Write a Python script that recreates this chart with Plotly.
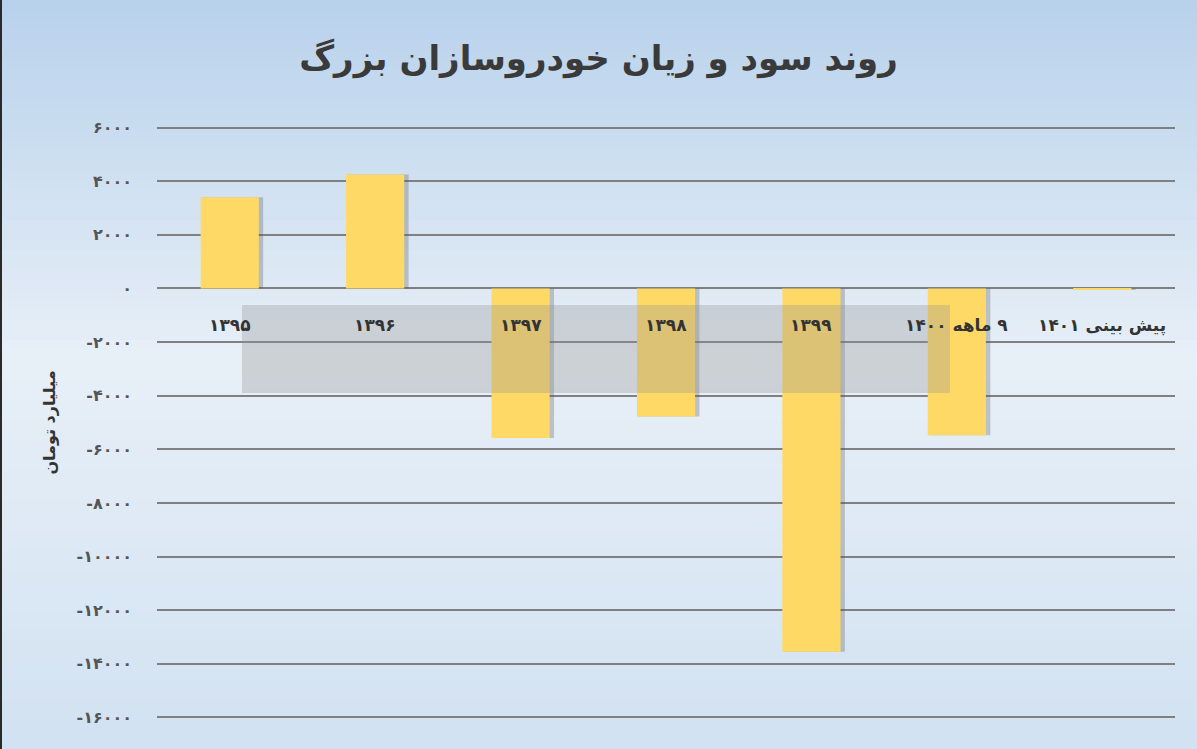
import plotly.graph_objects as go

categories = ["۱۳۹۵", "۱۳۹۶", "۱۳۹۷", "۱۳۹۸", "۱۳۹۹", "\u200f۹ ماهه ۱۴۰۰", "\u200fپیش بینی ۱۴۰۱"]
values = [3400, 4250, -5580, -4780, -13550, -5480, -60]
tick_vals = [6000, 4000, 2000, 0, -2000, -4000, -6000, -8000, -10000, -12000, -14000, -16000]

def fa(n):
    s = str(abs(n)).translate(str.maketrans("0123456789", "۰۱۲۳۴۵۶۷۸۹"))
    return ("-" + s) if n < 0 else s

tick_text = ["<b>" + fa(v) + "</b>" for v in tick_vals]

fig = go.Figure()

# shadow bars
fig.add_trace(go.Bar(
    x=categories, y=values, width=0.42, offset=-0.19,
    marker=dict(color="rgba(90,90,90,0.3)", line=dict(width=0)),
    hoverinfo="skip", showlegend=False,
))
fig.add_trace(go.Bar(
    x=categories, y=values, width=0.4, offset=-0.2,
    marker=dict(color="#FFD966", line=dict(width=0)),
    showlegend=False,
))

# background gradient (pixel rows, top to bottom)
H, W = 749, 1197
stops = [(0, (184, 210, 236)), (360, (232, 240, 248)), (749, (210, 226, 242))]

def col(yp):
    for (y0, c0), (y1, c1) in zip(stops[:-1], stops[1:]):
        if y0 <= yp <= y1:
            t = (yp - y0) / (y1 - y0)
            return tuple(int(c0[k] + (c1[k] - c0[k]) * t) for k in range(3))
    return stops[-1][1]

ml, mr, mt, mb = 157, 22, 125, 29
pw, ph = W - ml - mr, H - mt - mb

def px(x):
    return (x - ml) / pw

def py(y):
    return (H - mb - y) / ph

shapes = []
step = 10
for yp in range(0, H, step):
    c = col(yp + step / 2)
    shapes.append(dict(type="rect", xref="paper", yref="paper",
                       x0=px(-5), x1=px(W + 5), y0=py(yp + step + 1), y1=py(yp),
                       fillcolor="rgb(%d,%d,%d)" % c, line=dict(width=0), layer="below"))
# translucent watermark band
shapes.append(dict(type="rect", xref="paper", yref="paper",
                   x0=px(242), x1=px(950), y0=py(393), y1=py(305),
                   fillcolor="rgba(150,150,150,0.33)", line=dict(width=0), layer="above"))
# left border line
shapes.append(dict(type="line", xref="paper", yref="paper",
                   x0=px(1), x1=px(1), y0=py(0), y1=py(H),
                   line=dict(color="#2a2a2a", width=2), layer="above"))
fig.update_layout(shapes=shapes)

# category labels near zero line
for c in categories:
    fig.add_annotation(x=c, y=0, xref="x", yref="y", text="<b>" + c + "</b>", showarrow=False,
                       yshift=-37, font=dict(family="DejaVu Sans", size=17, color="#333333"))

fig.update_layout(
    width=W, height=H,
    margin=dict(l=ml, r=mr, t=mt, b=mb),
    paper_bgcolor="#dbe7f3",
    plot_bgcolor="rgba(0,0,0,0)",
    barmode="overlay",
    bargap=0.6,
    title=dict(text="<b>روند سود و زیان خودروسازان بزرگ</b>", x=0.5, xanchor="center",
               y=0.923, yanchor="middle",
               font=dict(family="DejaVu Sans", size=34, color="#3a3a3a")),
    xaxis=dict(showticklabels=False, showgrid=False, zeroline=False, showline=False,
               range=[-0.5, 6.5]),
    yaxis=dict(range=[-16100, 6100], tickvals=tick_vals, ticktext=tick_text,
               showgrid=True, gridcolor="#808080", gridwidth=1.8,
               zeroline=False, showline=False, ticklabelstandoff=24,
               tickfont=dict(family="DejaVu Sans", size=16, color="#555555"),
               title=dict(text="<b>میلیارد تومان</b>", standoff=16,
                          font=dict(family="DejaVu Sans", size=16, color="#333333"))),
)

fig.write_html("out.html", post_script="document.body.style.margin='0';",
               config={"displayModeBar": False})
